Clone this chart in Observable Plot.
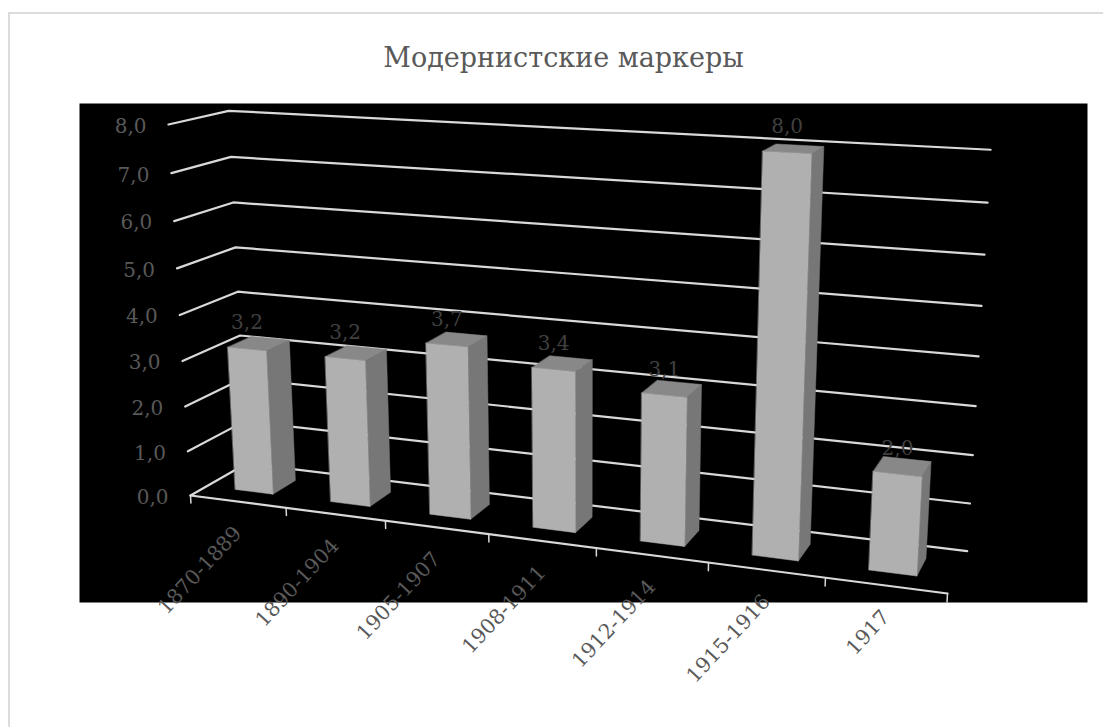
<!DOCTYPE html>
<html>
<head>
<meta charset="utf-8">
<script src="https://cdn.jsdelivr.net/npm/d3@7"></script>
<script src="https://cdn.jsdelivr.net/npm/@observablehq/plot@0.6"></script>
<style>
html,body{margin:0;padding:0;background:#fff;overflow:hidden}
#chart{position:absolute;left:0;top:0;width:1103px;height:727px}
#chart svg{display:block;background:transparent}
#edge{position:absolute;left:8px;top:12px;right:0;bottom:0;border-left:2px solid #dcdcdc;border-top:2px solid #dcdcdc}
</style>
</head>
<body>
<div id="edge"></div>
<div id="chart"></div>
<script>
const chartTitle = "Модернистские маркеры";
const categories = ["1870-1889","1890-1904","1905-1907","1908-1911","1912-1914","1915-1916","1917"];
const values = [3.2,3.2,3.7,3.4,3.1,8.0,2.0];
const axisTicks = [0,1,2,3,4,5,6,7,8];
const valueMax = 8;
const fmt = v => v.toFixed(1).replace(".", ",");

// Perspective view of the chart box: screen position of its corners and the
// relative camera depth along each of the box's three axes.
const view = {
  origin:[190,495], alongCategories:[947,593], alongValues:[168,124], alongDepth:[246,463],
  kCat:0.867, kVal:0.947, kDepth:1.054
};
function project(c, v, d){
  const u = c/categories.length, t = v/valueMax;
  const {origin:A, alongCategories:B, alongValues:E, alongDepth:C, kCat:ku, kVal:kt, kDepth:kd} = view;
  const w = 1 + u*(ku-1) + t*(kt-1) + d*(kd-1);
  const f = i => (A[i] + u*(ku*B[i]-A[i]) + t*(kt*E[i]-A[i]) + d*(kd*C[i]-A[i]))/w;
  return {sx:f(0), sy:f(1)};
}
const barLo = 0.3, barHi = 0.7, depthLo = 0.29, depthHi = 0.71;

const grid = axisTicks.flatMap(v => [[0,v,0],[0,v,1],[categories.length,v,1]]
  .map(([c,vv,d]) => ({id:v, ...project(c,vv,d)})));
const floorEdge = [0,categories.length].map(c => ({...project(c,0,0)}));
const ticks = d3.range(categories.length+1).flatMap(c =>
  [0,-0.17].map(v => ({id:c, ...project(c,v,0)})));

function face(i, pts){ return pts.map(p => ({id:i, ...project(...p)})); }
const fronts=[], sides=[], tops=[];
values.forEach((v,i)=>{
  const l=i+barLo, r=i+barHi;
  fronts.push(...face(i,[[l,0,depthLo],[r,0,depthLo],[r,v,depthLo],[l,v,depthLo]]));
  sides.push(...face(i,[[r,0,depthLo],[r,0,depthHi],[r,v,depthHi],[r,v,depthLo]]));
  tops.push(...face(i,[[l,v,depthLo],[r,v,depthLo],[r,v,depthHi],[l,v,depthHi]]));
});
const valueLabels = values.map((v,i)=>({text:fmt(v), ...project(i+0.5,v,depthLo)}));
const catLabels = categories.map((t,i)=>({text:t, ...project(i+0.5,0,0)}));
const axisLabels = axisTicks.map(v=>({text:fmt(v), ...project(0,v,0)}));

const serif = "'DejaVu Serif', serif";
const poly = (data,color) => Plot.line(data,{x:"sx",y:"sy",z:"id",fill:color,stroke:color,strokeWidth:0.5,curve:"linear-closed"});

document.getElementById("chart").append(Plot.plot({
  width:1103, height:727,
  marginLeft:79, marginRight:16, marginTop:103, marginBottom:125,
  x:{domain:[79,1087], range:[79,1087], axis:null},
  y:{domain:[103,602], range:[103,602], axis:null},
  style:{background:"transparent"},
  marks:[
    Plot.frame({fill:"#000", stroke:"none"}),
    Plot.line(grid,{x:"sx",y:"sy",z:"id",stroke:"#d9d9d9",strokeWidth:2.2,strokeLinejoin:"round"}),
    Plot.line(floorEdge,{x:"sx",y:"sy",stroke:"#d9d9d9",strokeWidth:2.2}),
    Plot.line(ticks,{x:"sx",y:"sy",z:"id",stroke:"#d9d9d9",strokeWidth:1.5}),
    poly(sides,"#777777"),
    poly(tops,"#888888"),
    poly(fronts,"#b0b0b0"),
    Plot.text(valueLabels,{x:"sx",y:"sy",text:"text",dy:-26,fill:"#404040",fontSize:20,fontFamily:serif}),
    Plot.text(axisLabels,{x:"sx",y:"sy",text:"text",dx:-22,dy:2,textAnchor:"end",fill:"#595959",fontSize:20,fontFamily:serif}),
    Plot.text(catLabels,{x:"sx",y:"sy",text:"text",dy:28,rotate:-47,textAnchor:"end",fill:"#595959",fontSize:20.5,fontFamily:serif}),
    Plot.text([chartTitle],{frameAnchor:"top",dy:-56,dx:-20,fill:"#595959",fontSize:27,fontFamily:serif})
  ]
}));
</script>
</body>
</html>
